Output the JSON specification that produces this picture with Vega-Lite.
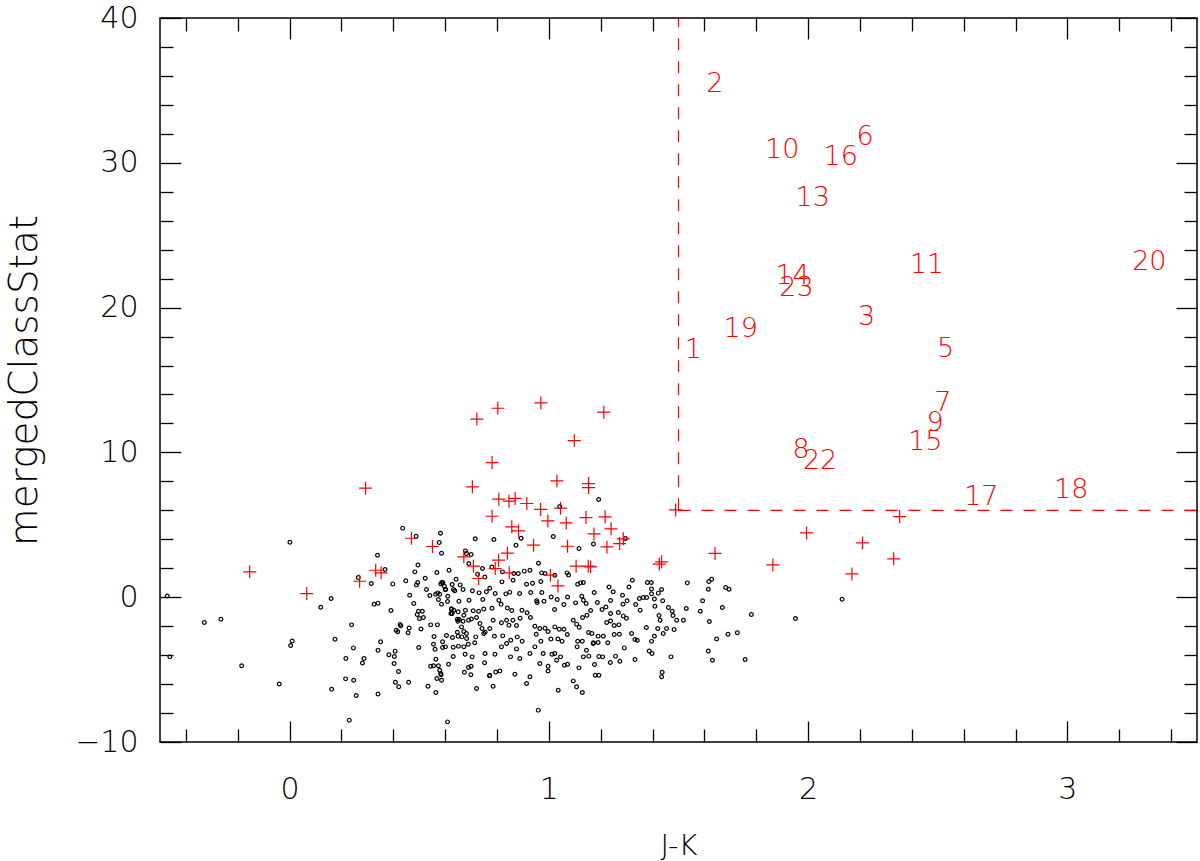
{
"$schema":"https://vega.github.io/schema/vega-lite/v6.json",
"width":1037,"height":724,
"autosize":{"type":"none"},
"padding":{"left":160,"top":18,"right":3,"bottom":119},
"background":"white",
"config":{"view":{"stroke":"#000","strokeWidth":1.5},"axis":{"domain":false,"grid":false,"tickColor":"#000","tickWidth":1.3,"labelFont":"DejaVu Sans","labelFontWeight":200,"labelColor":"#000","titleFont":"DejaVu Sans","titleFontWeight":200,"titleColor":"#000"}},
"datasets":{
"dots":[
{"x":-0.472,"y":0.09},{"x":-0.462,"y":-4.12},{"x":-0.329,"y":-1.75},{"x":-0.265,"y":-1.52},{"x":-0.185,"y":-4.74},{"x":-0.04,"y":-6.0},{"x":0.001,"y":3.8},{"x":0.004,"y":-3.34},{"x":0.01,"y":-3.02},{"x":0.12,"y":-0.69},{"x":0.16,"y":-0.09},{"x":0.175,"y":-2.9},{"x":0.162,"y":-6.35},{"x":0.217,"y":-4.24},{"x":0.216,"y":-5.64},{"x":0.239,"y":-1.91},{"x":0.246,"y":-3.5},{"x":0.247,"y":-5.73},{"x":0.257,"y":-6.79},{"x":0.23,"y":-8.49},{"x":0.281,"y":-4.54},{"x":0.287,"y":-4.24},{"x":0.265,"y":1.36},{"x":0.315,"y":0.94},{"x":0.326,"y":-0.48},{"x":0.341,"y":-0.41},{"x":0.339,"y":2.9},{"x":0.341,"y":-3.66},{"x":0.341,"y":-6.68},{"x":0.351,"y":-3.08},{"x":0.368,"y":1.91},{"x":0.391,"y":-0.92},{"x":0.398,"y":0.92},{"x":0.383,"y":-3.98},{"x":0.404,"y":-4.1},{"x":0.403,"y":-4.58},{"x":0.407,"y":-3.73},{"x":0.411,"y":-2.28},{"x":0.417,"y":-2.39},{"x":0.42,"y":-5.13},{"x":0.408,"y":-5.87},{"x":0.421,"y":-6.19},{"x":0.426,"y":-1.89},{"x":0.429,"y":-1.98},{"x":0.436,"y":4.77},{"x":0.448,"y":1.13},{"x":0.461,"y":-2.12},{"x":0.457,"y":-2.46},{"x":0.459,"y":-5.87},{"x":0.463,"y":0.14},{"x":0.479,"y":-0.44},{"x":0.483,"y":1.75},{"x":0.488,"y":4.21},{"x":0.489,"y":0.85},{"x":0.495,"y":2.23},{"x":0.494,"y":1.01},{"x":0.497,"y":-0.97},{"x":0.492,"y":-1.2},{"x":0.501,"y":-1.47},{"x":0.512,"y":-0.97},{"x":0.516,"y":-1.4},{"x":0.507,"y":-2.19},{"x":0.498,"y":-3.47},{"x":0.523,"y":1.31},{"x":0.528,"y":0.53},{"x":0.541,"y":0.12},{"x":0.544,"y":-1.91},{"x":0.534,"y":-6.15},{"x":0.557,"y":-2.71},{"x":0.555,"y":-3.25},{"x":0.561,"y":-3.59},{"x":0.564,"y":-4.28},{"x":0.564,"y":-6.58},{"x":0.568,"y":1.71},{"x":0.571,"y":0.3},{"x":0.57,"y":-1.91},{"x":0.568,"y":-5.62},{"x":0.577,"y":3.78},{"x":0.582,"y":4.42},{"x":0.586,"y":3.04},{"x":0.587,"y":1.01},{"x":0.586,"y":-0.48},{"x":0.59,"y":-3.08},{"x":0.59,"y":-3.47},{"x":0.583,"y":-5.27},{"x":0.586,"y":-5.73},{"x":0.579,"y":-5.04},{"x":0.584,"y":-5.36},{"x":0.555,"y":-4.74},{"x":0.544,"y":-4.77},{"x":0.574,"y":-4.74},{"x":0.6,"y":0.53},{"x":0.601,"y":-3.43},{"x":0.605,"y":-2.64},{"x":0.609,"y":-8.61},{"x":0.613,"y":-4.63},{"x":0.61,"y":0.07},{"x":0.609,"y":-0.3},{"x":0.615,"y":1.86},{"x":0.627,"y":0.88},{"x":0.628,"y":-2.78},{"x":0.631,"y":-4.1},{"x":0.624,"y":-0.83},{"x":0.627,"y":-1.13},{"x":0.631,"y":-3.45},{"x":0.637,"y":0.44},{"x":0.642,"y":1.24},{"x":0.647,"y":-1.52},{"x":0.647,"y":-2.42},{"x":0.65,"y":-2.69},{"x":0.651,"y":-3.38},{"x":0.653,"y":-0.28},
{"x":0.563,"y":0.21},{"x":0.579,"y":0.21},{"x":0.574,"y":-0.16},{"x":0.583,"y":0.92},{"x":0.591,"y":1.01},{"x":0.597,"y":0.76},{"x":0.602,"y":0.53},{"x":0.632,"y":0.53},{"x":0.658,"y":0.85},{"x":0.624,"y":-0.8},{"x":0.633,"y":-0.9},{"x":0.65,"y":-1.01},{"x":0.622,"y":-1.13},{"x":0.654,"y":-1.54},{"x":0.649,"y":-1.66},{"x":0.669,"y":-1.66},
{"x":1.192,"y":6.75},{"x":1.042,"y":6.26},{"x":1.017,"y":4.19},{"x":1.116,"y":3.36},{"x":1.172,"y":3.68},{"x":1.295,"y":4.05},{"x":0.893,"y":4.07},{"x":0.873,"y":3.59},{"x":0.788,"y":3.98},{"x":0.716,"y":4.03},{"x":0.678,"y":3.2},{"x":0.7,"y":2.95},{"x":0.682,"y":3.02},{"x":0.691,"y":2.33},{"x":0.744,"y":1.98},{"x":0.78,"y":2.09},{"x":0.96,"y":2.35},{"x":0.905,"y":1.8},{"x":0.927,"y":1.86},{"x":0.865,"y":1.64},{"x":0.821,"y":1.75},{"x":0.882,"y":1.64},{"x":0.972,"y":1.68},{"x":0.985,"y":1.64},{"x":1.023,"y":1.52},{"x":1.07,"y":1.68},{"x":1.076,"y":1.54},{"x":0.753,"y":1.4},{"x":0.725,"y":1.59},{"x":1.322,"y":1.17},{"x":1.309,"y":0.71},{"x":1.38,"y":1.01},{"x":1.395,"y":1.01},{"x":1.534,"y":0.99},{"x":1.617,"y":1.08},{"x":1.628,"y":1.24},{"x":1.682,"y":0.67},{"x":1.695,"y":0.55},{"x":1.615,"y":0.55},
{"x":1.111,"y":0.9},{"x":1.122,"y":0.99},{"x":1.133,"y":1.01},{"x":1.175,"y":0.32},{"x":1.232,"y":0.71},{"x":1.248,"y":0.37},{"x":1.284,"y":0.14},{"x":1.302,"y":-0.25},{"x":1.349,"y":-0.09},{"x":1.364,"y":-0.02},{"x":1.377,"y":-0.02},{"x":1.396,"y":0.23},{"x":1.422,"y":0.28},{"x":1.435,"y":0.53},{"x":1.439,"y":-0.25},{"x":1.409,"y":-0.62},{"x":1.461,"y":-0.71},{"x":1.476,"y":-0.97},{"x":1.53,"y":-0.78},{"x":1.593,"y":-0.25},{"x":1.584,"y":-0.97},{"x":1.669,"y":-0.71},{"x":1.352,"y":-0.9},{"x":1.238,"y":-0.23},{"x":1.22,"y":-0.67},{"x":1.205,"y":-0.85},{"x":1.187,"y":-0.37},{"x":1.286,"y":-0.48},{"x":1.268,"y":-1.06},{"x":1.161,"y":-0.92},{"x":1.144,"y":-0.44},{"x":1.133,"y":-0.21},{"x":1.127,"y":0.07},{"x":1.103,"y":-0.39},{"x":1.072,"y":0.02},{"x":1.058,"y":-0.5},{"x":1.032,"y":-0.16},{"x":1.022,"y":-0.85},{"x":1.009,"y":0.02},{"x":0.981,"y":-0.28},{"x":0.973,"y":0.32},{"x":0.953,"y":-0.25},{"x":0.969,"y":1.08},{"x":0.937,"y":0.97},{"x":0.914,"y":0.9},{"x":0.93,"y":0.32},{"x":0.887,"y":0.26},{"x":0.862,"y":1.17},{"x":0.849,"y":0.35},{"x":0.834,"y":0.23},{"x":0.819,"y":1.06},{"x":0.816,"y":-0.48},{"x":0.807,"y":-0.21},{"x":0.793,"y":0.26},{"x":0.772,"y":0.62},{"x":0.759,"y":0.37},{"x":0.745,"y":-0.16},{"x":0.731,"y":0.3},{"x":0.705,"y":0.44},{"x":0.692,"y":-0.21},{"x":0.669,"y":0.53},{"x":0.678,"y":-0.9},{"x":0.708,"y":-0.94},{"x":0.729,"y":-0.97},{"x":0.749,"y":-0.81},{"x":0.781,"y":-0.76},{"x":0.84,"y":-0.74},{"x":0.857,"y":-0.92},{"x":0.896,"y":-0.9},{"x":0.916,"y":-1.08},{"x":0.955,"y":-0.37},
{"x":0.672,"y":-1.24},{"x":0.69,"y":-1.59},{"x":0.663,"y":-2.05},{"x":0.701,"y":-1.5},{"x":0.721,"y":-1.4},{"x":0.734,"y":-1.82},{"x":0.742,"y":-2.16},{"x":0.672,"y":-2.37},{"x":0.682,"y":-2.51},{"x":0.664,"y":-2.74},{"x":0.718,"y":-2.74},{"x":0.754,"y":-2.42},{"x":0.772,"y":-2.16},{"x":0.785,"y":-1.59},{"x":0.817,"y":-1.77},{"x":0.837,"y":-1.59},{"x":0.846,"y":-1.93},{"x":0.861,"y":-1.59},{"x":0.875,"y":-1.95},{"x":0.889,"y":-1.45},{"x":0.929,"y":-1.4},{"x":0.946,"y":-2.0},{"x":0.965,"y":-2.16},{"x":0.985,"y":-2.14},{"x":0.997,"y":-2.37},{"x":1.023,"y":-2.05},{"x":1.04,"y":-2.21},{"x":1.058,"y":-2.21},{"x":1.071,"y":-2.58},{"x":1.094,"y":-1.59},{"x":1.107,"y":-1.86},{"x":1.117,"y":-2.07},{"x":1.13,"y":-1.4},{"x":1.147,"y":-1.24},{"x":1.153,"y":-2.44},{"x":1.166,"y":-2.51},{"x":1.19,"y":-2.69},{"x":1.21,"y":-2.69},{"x":1.223,"y":-1.75},{"x":1.238,"y":-1.64},{"x":1.252,"y":-1.95},{"x":1.27,"y":-1.91},{"x":1.272,"y":-2.56},{"x":1.319,"y":-2.51},{"x":1.332,"y":-2.92},{"x":1.341,"y":-2.97},{"x":1.376,"y":-2.09},{"x":1.407,"y":-2.69},{"x":1.42,"y":-2.16},{"x":1.441,"y":-2.51},{"x":1.454,"y":-2.16},{"x":1.483,"y":-2.23},{"x":1.493,"y":-1.59},{"x":1.519,"y":-1.59},{"x":1.619,"y":-1.68},{"x":1.647,"y":-2.88},{"x":1.691,"y":-2.56},{"x":1.727,"y":-2.46},{"x":1.615,"y":-3.71},{"x":1.631,"y":-4.35},
{"x":0.672,"y":-3.43},{"x":0.689,"y":-3.25},{"x":0.677,"y":-3.94},{"x":0.674,"y":-5.18},{"x":0.69,"y":-4.86},{"x":0.699,"y":-5.36},{"x":0.721,"y":-6.31},{"x":0.704,"y":-4.12},{"x":0.714,"y":-3.15},{"x":0.754,"y":-3.89},{"x":0.752,"y":-4.53},{"x":0.772,"y":-5.39},{"x":0.785,"y":-6.15},{"x":0.795,"y":-5.16},{"x":0.811,"y":-5.09},{"x":0.792,"y":-3.94},{"x":0.817,"y":-3.43},{"x":0.837,"y":-3.2},{"x":0.852,"y":-4.12},{"x":0.875,"y":-3.57},{"x":0.888,"y":-4.24},{"x":0.869,"y":-5.32},{"x":0.914,"y":-5.96},{"x":0.927,"y":-5.5},{"x":0.927,"y":-3.89},{"x":0.946,"y":-3.43},{"x":0.965,"y":-4.58},{"x":0.997,"y":-4.77},{"x":0.997,"y":-5.09},{"x":0.978,"y":-3.89},{"x":1.012,"y":-3.94},{"x":1.023,"y":-3.89},{"x":1.03,"y":-4.35},{"x":1.045,"y":-4.12},{"x":1.036,"y":-6.42},{"x":1.06,"y":-4.7},{"x":1.072,"y":-4.63},{"x":0.959,"y":-7.8},{"x":1.094,"y":-5.78},{"x":1.107,"y":-6.19},{"x":1.129,"y":-6.58},{"x":1.116,"y":-4.88},{"x":1.109,"y":-3.43},{"x":1.133,"y":-4.12},{"x":1.145,"y":-3.66},{"x":1.154,"y":-4.07},{"x":1.171,"y":-3.2},{"x":1.176,"y":-4.65},{"x":1.179,"y":-5.39},{"x":1.193,"y":-5.39},{"x":1.207,"y":-4.12},{"x":1.237,"y":-4.51},{"x":1.257,"y":-4.07},{"x":1.274,"y":-4.42},{"x":1.291,"y":-3.5},{"x":1.332,"y":-4.3},{"x":1.387,"y":-3.71},{"x":1.398,"y":-3.89},{"x":1.435,"y":-5.5},{"x":1.437,"y":-5.18},{"x":1.471,"y":-4.12},
{"x":1.781,"y":-1.2},{"x":1.757,"y":-4.3},{"x":1.951,"y":-1.47},{"x":2.131,"y":-0.14},
{"x":0.683,"y":-2.85},{"x":0.749,"y":-2.51},{"x":0.79,"y":-2.69},{"x":0.822,"y":-2.67},{"x":0.853,"y":-2.97},{"x":0.878,"y":-2.74},{"x":0.897,"y":-3.04},{"x":0.951,"y":-2.56},{"x":0.969,"y":-3.04},{"x":1.008,"y":-2.88},{"x":1.035,"y":-2.88},{"x":1.051,"y":-3.04},{"x":1.111,"y":-3.04},{"x":1.129,"y":-3.04},{"x":1.172,"y":-3.15},{"x":0.7,"y":-4.77},{"x":0.771,"y":-5.43},
{"x":1.396,"y":0.57},{"x":1.407,"y":-0.12},{"x":1.335,"y":-0.5},{"x":1.238,"y":-1.13},{"x":1.287,"y":-1.29},{"x":1.299,"y":-1.45},{"x":1.425,"y":-1.26},{"x":1.479,"y":-1.26},{"x":1.429,"y":-1.59},
{"x":1.252,"y":-2.58},{"x":1.396,"y":-3.05},{"x":1.193,"y":-4.1},{"x":1.227,"y":-3.15},{"x":1.19,"y":-3.13}
],
"crosses":[
{"x":0.293,"y":7.53},{"x":0.47,"y":4.07},{"x":0.551,"y":3.5},{"x":-0.154,"y":1.75},{"x":0.066,"y":0.25},{"x":0.332,"y":1.86},{"x":0.353,"y":1.68},{"x":0.27,"y":1.1},
{"x":0.722,"y":12.3},{"x":0.803,"y":13.05},{"x":0.969,"y":13.42},{"x":1.212,"y":12.78},{"x":1.098,"y":10.82},{"x":0.781,"y":9.3},{"x":0.705,"y":7.62},{"x":1.031,"y":8.03},{"x":1.153,"y":7.85},{"x":1.153,"y":7.57},{"x":0.807,"y":6.77},{"x":0.846,"y":6.63},{"x":0.87,"y":6.82},{"x":0.915,"y":6.47},{"x":0.968,"y":6.06},{"x":1.045,"y":6.15},{"x":0.781,"y":5.59},{"x":0.996,"y":5.27},{"x":1.067,"y":5.13},{"x":1.143,"y":5.5},{"x":1.217,"y":5.55},{"x":0.857,"y":4.86},{"x":0.883,"y":4.58},{"x":1.24,"y":4.72},{"x":1.174,"y":4.37},{"x":1.287,"y":4.03},{"x":1.273,"y":3.7},{"x":1.224,"y":3.47},{"x":0.941,"y":3.59},{"x":1.072,"y":3.52},{"x":0.84,"y":3.04},{"x":0.806,"y":2.56},{"x":0.672,"y":2.79},{"x":0.709,"y":2.14},{"x":0.793,"y":1.98},{"x":0.847,"y":1.68},{"x":0.729,"y":1.29},{"x":1.006,"y":1.52},{"x":1.035,"y":0.78},{"x":1.105,"y":2.14},{"x":1.152,"y":2.14},{"x":1.161,"y":2.09},{"x":1.426,"y":2.28},{"x":1.435,"y":2.44},{"x":1.489,"y":6.03},{"x":1.641,"y":3.02},
{"x":1.864,"y":2.23},{"x":1.994,"y":4.44},{"x":2.21,"y":3.75},{"x":2.169,"y":1.61},{"x":2.33,"y":2.65},{"x":2.353,"y":5.57}
],
"labels":[
{"x":1.64,"y":35.45,"t":"2"},{"x":1.90,"y":30.9,"t":"10"},{"x":2.126,"y":30.4,"t":"16"},{"x":2.22,"y":31.8,"t":"6"},{"x":2.018,"y":27.56,"t":"13"},{"x":2.458,"y":22.92,"t":"11"},{"x":3.316,"y":23.15,"t":"20"},{"x":1.94,"y":22.18,"t":"14"},{"x":1.955,"y":21.36,"t":"23"},{"x":2.226,"y":19.36,"t":"3"},{"x":1.74,"y":18.5,"t":"19"},{"x":1.557,"y":17.1,"t":"1"},{"x":2.53,"y":17.13,"t":"5"},{"x":2.52,"y":13.4,"t":"7"},{"x":2.49,"y":12.0,"t":"9"},{"x":2.452,"y":10.7,"t":"15"},{"x":1.973,"y":10.2,"t":"8"},{"x":2.046,"y":9.4,"t":"22"},{"x":2.668,"y":6.9,"t":"17"},{"x":3.015,"y":7.4,"t":"18"}
]
},
"layer":[
{"data":{"name":"dots"},
 "mark":{"type":"point","shape":"circle","filled":false,"size":14,"strokeWidth":1.2,"color":"#000","opacity":1},
 "encoding":{
  "x":{"field":"x","type":"quantitative","scale":{"domain":[-0.5,3.5],"nice":false,"zero":false},"axis":{"orient":"bottom","values":[0,1,2,3],"ticks":false,"labelFontSize":30,"labelPadding":32,"title":"J-K","titleFontSize":29,"titlePadding":27}},
  "y":{"field":"y","type":"quantitative","scale":{"domain":[-10,40],"nice":false,"zero":false},"axis":{"orient":"left","values":[-10,0,10,20,30,40],"ticks":false,"labelFontSize":30,"labelPadding":22,"title":"mergedClassStat","titleFontSize":39,"titlePadding":30}}
 }},
{"data":{"name":"crosses"},
 "mark":{"type":"point","shape":"M-1,0L1,0M0,-1L0,1","filled":false,"size":169,"strokeWidth":1.2,"color":"#ff0000","opacity":1},
 "encoding":{
  "x":{"field":"x","type":"quantitative","axis":{"orient":"bottom","values":[0,1,2,3],"tickSize":-21,"labels":false,"title":null}},
  "y":{"field":"y","type":"quantitative","axis":{"orient":"left","values":[-10,0,10,20,30,40],"tickSize":-21,"labels":false,"title":null}}
 }},
{"data":{"name":"labels"},
 "mark":{"type":"text","font":"DejaVu Sans","fontWeight":200,"fontSize":27,"color":"#ff0000","align":"center","baseline":"middle"},
 "encoding":{
  "x":{"field":"x","type":"quantitative","axis":{"orient":"bottom","values":[-0.4,-0.2,0.2,0.4,0.6,0.8,1.2,1.4,1.6,1.8,2.2,2.4,2.6,2.8,3.2,3.4],"tickSize":-13,"labels":false,"title":null}},
  "y":{"field":"y","type":"quantitative","axis":{"orient":"left","values":[-8,-6,-4,-2,2,4,6,8,12,14,16,18,22,24,26,28,32,34,36,38],"tickSize":-13,"labels":false,"title":null}},
  "text":{"field":"t"}
 }},
{"data":{"values":[{"x":1.5,"y":6,"y2":40}]},
 "mark":{"type":"rule","color":"#ff0000","strokeWidth":1.2,"strokeDash":[12,11]},
 "encoding":{
  "x":{"field":"x","type":"quantitative","axis":{"orient":"top","values":[0,1,2,3],"tickSize":-21,"labels":false,"title":null}},
  "y":{"field":"y","type":"quantitative","axis":{"orient":"right","values":[-10,0,10,20,30,40],"tickSize":-21,"labels":false,"title":null}},
  "y2":{"field":"y2"}
 }},
{"data":{"values":[{"x":1.5,"x2":3.5,"y":6}]},
 "mark":{"type":"rule","color":"#ff0000","strokeWidth":1.2,"strokeDash":[12,11]},
 "encoding":{
  "x":{"field":"x","type":"quantitative","axis":{"orient":"top","values":[-0.4,-0.2,0.2,0.4,0.6,0.8,1.2,1.4,1.6,1.8,2.2,2.4,2.6,2.8,3.2,3.4],"tickSize":-13,"labels":false,"title":null}},
  "x2":{"field":"x2"},
  "y":{"field":"y","type":"quantitative","axis":{"orient":"right","values":[-8,-6,-4,-2,2,4,6,8,12,14,16,18,22,24,26,28,32,34,36,38],"tickSize":-13,"labels":false,"title":null}}
 }}
],
"resolve":{"axis":{"x":"independent","y":"independent"}}
}
